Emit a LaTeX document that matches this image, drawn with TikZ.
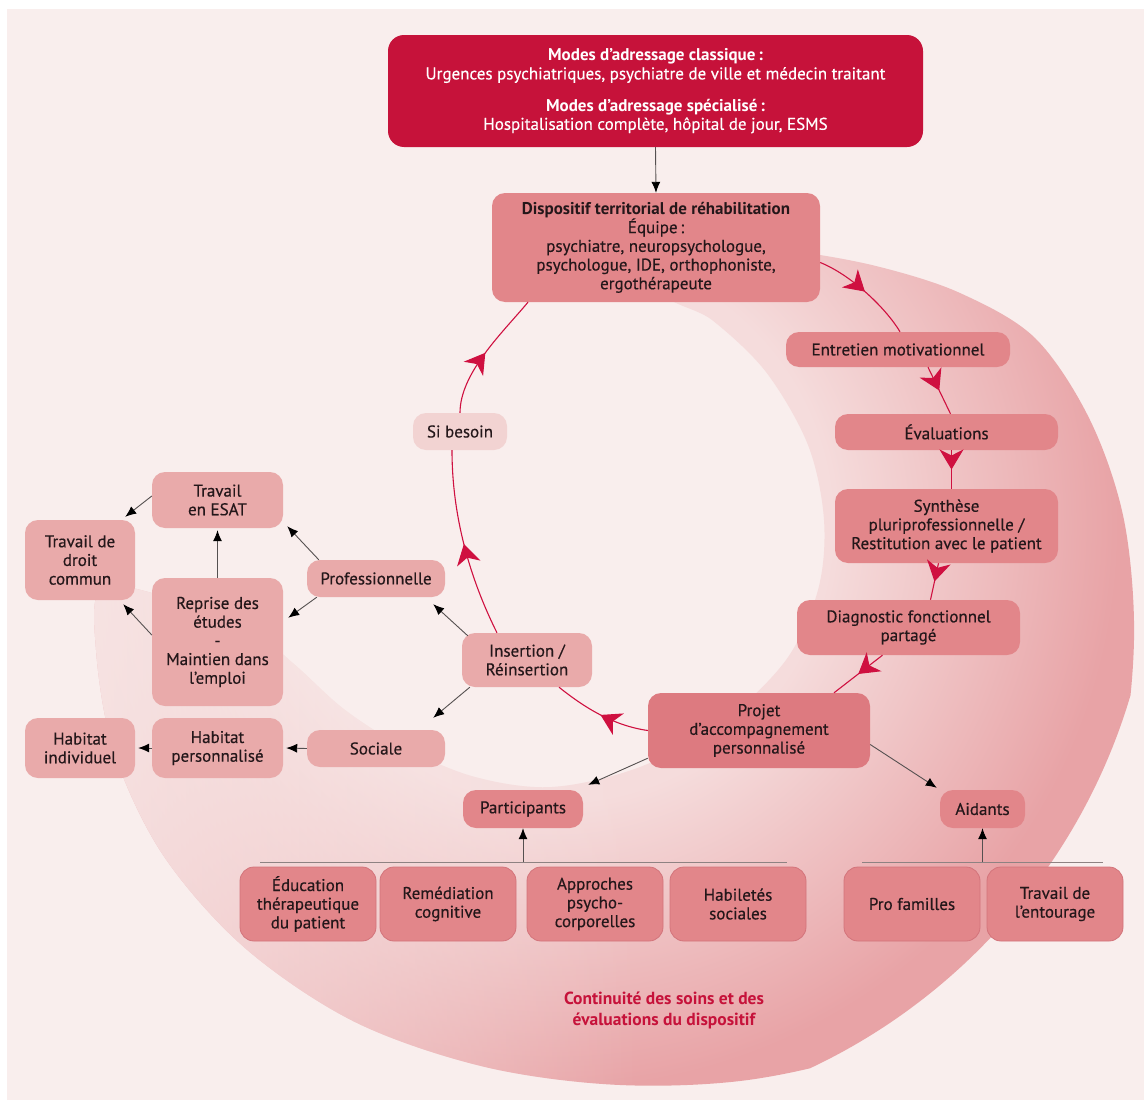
\documentclass[tikz,border=0pt]{standalone}
\usepackage{fontspec}
\setmainfont{PT Sans}[UprightFeatures={FakeBold=0.4}]
\usetikzlibrary{arrows.meta,decorations.markings,fadings}
\definecolor{bgc}{HTML}{F9EEED}
\definecolor{crim}{HTML}{C6123A}
\definecolor{redln}{HTML}{CF1040}
\definecolor{midbox}{HTML}{E2868A}
\definecolor{projbox}{HTML}{DD7A80}
\definecolor{litebox}{HTML}{E9AAAA}
\definecolor{palebox}{HTML}{F2D3D2}
\definecolor{botline}{HTML}{D3747B}
\definecolor{txt}{HTML}{24171A}
\definecolor{crl}{HTML}{F5DCDC}
\definecolor{crd}{HTML}{E8A3A6}
\definecolor{sepc}{HTML}{8E8282}
\definecolor{blkln}{HTML}{555050}
\tikzfading[name=fadeleft, left color=transparent!15, right color=transparent!100]
\pgfdeclareradialshading{cres}{\pgfpoint{0bp}{0bp}}{color(0bp)=(crl); color(11.5bp)=(crl); color(23.5bp)=(crd); color(50bp)=(crd)}
\newcommand\boxfont{\fontsize{17}{18.7}\selectfont}
\newcommand\contfont{\bfseries\fontsize{17.5}{21}\selectfont}
\begin{document}
\begin{tikzpicture}[x=1pt,y=-1pt,
  bx/.style={rounded corners=13pt, inner sep=2pt, align=center, text=txt, font=\boxfont},
  topb/.style={bx, rounded corners=16pt, fill=crim, text=white},
  midb/.style={bx, fill=midbox},
  projb/.style={bx, fill=projbox},
  liteb/.style={bx, fill=litebox},
  paleb/.style={bx, fill=palebox},
  botb/.style={bx, fill=midbox, draw=botline, line width=0.8pt, rounded corners=14pt, minimum width=136pt, minimum height=74pt},
  redarr/.style={draw=redln, line width=1.1pt, postaction={decorate},
     decoration={markings, mark=at position 0.5 with {\arrow{Stealth[length=20pt,width=24pt,inset=6pt,redln]}}}},
  blk/.style={draw=blkln, line width=0.9pt, -{Latex[length=11pt,width=9pt,black]}},
  sepl/.style={draw=sepc, line width=1pt}
]
\useasboundingbox (0,0) rectangle (1144,1100);
\fill[white] (0,0) rectangle (1144,1100);
\fill[bgc] (7,9) rectangle (1144,1100);
% crescent
\begin{scope}
\clip plot[smooth cycle, tension=0.55] coordinates {(720,245) (800,252) (880,267) (960,293) (1035,338) (1090,420) (1124,520) (1134,640) (1119,765) (1073,885) (996,980) (886,1045) (755,1079) (620,1085) (485,1067) (355,1022) (245,948) (163,855) (114,752) (96,650) (102,588) (170,598) (245,625) (295,665) (345,710) (405,748) (475,777) (552,787) (640,767) (722,722) (786,660) (818,590) (824,520) (808,445) (766,372) (712,320) (665,292)};
\shade[shading=cres] (555,525) circle[radius=600];
\fill[bgc, path fading=fadeleft] (60,400) rectangle (640,1100);
\end{scope}
% nodes
\node[topb, minimum width=535pt, minimum height=112pt] (top) at (655.5,91) {\textbf{Modes d’adressage classique\,:}\\Urgences psychiatriques, psychiatre de ville et médecin traitant\\[13pt]\textbf{Modes d’adressage spécialisé\,:}\\Hospitalisation complète, hôpital de jour, ESMS};
\node[midb, minimum width=328pt, minimum height=109pt] (disp) at (656,247.5) {\textbf{Dispositif territorial de réhabilitation}\\Équipe\,:\\psychiatre, neuropsychologue,\\psychologue, IDE, orthophoniste,\\ergothérapeute};
\node[midb, minimum width=224pt, minimum height=35pt] (entre) at (898,349.5) {Entretien motivationnel};
\node[midb, minimum width=223pt, minimum height=36pt] (eval) at (946.5,432) {Évaluations};
\node[midb, minimum width=223pt, minimum height=74pt] (synth) at (946.5,526) {Synthèse\\pluriprofessionnelle /\\Restitution avec le patient};
\node[midb, minimum width=223pt, minimum height=55pt] (diag) at (908.5,627.5) {Diagnostic fonctionnel\\partagé};
\node[projb, minimum width=222pt, minimum height=75pt] (projet) at (759,730.5) {Projet\\d’accompagnement\\personnalisé};
\node[liteb, minimum width=130pt, minimum height=54pt] (ins) at (527,660) {Insertion /\\Réinsertion};
\node[paleb, minimum width=94pt, minimum height=37pt] (sib) at (460,431.5) {Si besoin};
\node[liteb, minimum width=138pt, minimum height=37pt] (prof) at (376,578.5) {Professionnelle};
\node[liteb, minimum width=138pt, minimum height=37pt] (soc) at (376,748.5) {Sociale};
\node[liteb, minimum width=131pt, minimum height=56pt] (esat) at (217.5,500) {Travail\\en ESAT};
\node[liteb, minimum width=110pt, minimum height=80pt] (droit) at (80,560) {Travail de\\droit\\commun};
\node[liteb, minimum width=131pt, minimum height=128pt] (reprise) at (217.5,642) {Reprise des\\études\\-\\Maintien dans\\l’emploi};
\node[liteb, minimum width=110pt, minimum height=60pt] (hind) at (80,748) {Habitat\\individuel};
\node[liteb, minimum width=131pt, minimum height=60pt] (hpers) at (217.5,748) {Habitat\\personnalisé};
\node[midb, minimum width=120pt, minimum height=38pt] (partic) at (523,809) {Participants};
\node[midb, minimum width=85pt, minimum height=38pt] (aid) at (982.5,809) {Aidants};
\node[botb] (edu) at (308,904) {Éducation\\thérapeutique\\du patient};
\node[botb] (rem) at (448,904) {Remédiation\\cognitive};
\node[botb] (appr) at (595,904) {Approches\\psycho-\\corporelles};
\node[botb] (hab) at (738,904) {Habiletés\\sociales};
\node[botb] (profam) at (912,904) {Pro familles};
\node[botb] (ent) at (1055,904) {Travail de\\l’entourage};
\node[font=\contfont, text=crim, align=center] (cont) at (664,1010) {Continuité des soins et des\\évaluations du dispositif};
% separators
\coordinate (sa1) at (260,862);
\coordinate (sa2) at (787,862);
\coordinate (sb1) at (862,862);
\coordinate (sb2) at (1103,862);
\draw[sepl] (sa1) -- (sa2);
\draw[sepl] (sb1) -- (sb2);
% red cycle
\draw[redarr] ([yshift=-15pt]disp.east) .. controls +(30,12) and +(-15,-25) .. ([xshift=2pt]entre.north);
\draw[redarr] ([xshift=30pt]entre.south) -- ([xshift=4pt]eval.north);
\draw[redarr] ([xshift=5pt]eval.south) -- ([xshift=5pt]synth.north);
\draw[redarr] ([xshift=-8pt]synth.south) -- ([xshift=22pt]diag.north);
\draw[redarr] ([xshift=-26pt]diag.south) -- ([xshift=75pt]projet.north);
\draw[redarr] (projet.west) .. controls +(-35,-5) and +(25,20) .. ([xshift=32pt]ins.south);
\draw[redarr] ([xshift=-30pt]ins.north) .. controls +(-25,-50) and +(0,70) .. ([xshift=-8pt]sib.south);
\draw[redarr] (sib.north) .. controls +(0,-40) and +(-25,30) .. ([xshift=-128pt]disp.south);
% black arrows
\draw[blk] (top.south) -- (disp.north);
\draw[blk] ([yshift=10pt]projet.south west) -- ([xshift=5pt,yshift=5pt]partic.north east);
\draw[blk] ([yshift=-14pt]projet.east) -- ([xshift=-3pt,yshift=2pt]aid.north west);
\draw[blk] ([xshift=6pt,yshift=-3pt]ins.north west) -- ([xshift=-12pt,yshift=-7pt]prof.south east);
\draw[blk] ([xshift=8pt]ins.south west) -- ([xshift=-12pt,yshift=12pt]soc.north east);
\draw[blk] ([xshift=12pt]prof.north west) -- ([xshift=4pt,yshift=2pt]esat.south east);
\draw[blk] ([xshift=10pt]prof.south west) -- ([xshift=5pt,yshift=-40pt]reprise.north east);
\draw[blk] (reprise.north) -- ([yshift=-2pt]esat.south);
\draw[blk] ([yshift=4pt]esat.west) -- ([xshift=-10pt,yshift=3pt]droit.north east);
\draw[blk] ([yshift=7pt]reprise.west) -- ([xshift=-12pt,yshift=-4pt]droit.south east);
\draw[blk] (soc.west) -- ([xshift=3pt]hpers.east);
\draw[blk] (hpers.west) -- ([xshift=3pt]hind.east);
\draw[blk] (partic.south |- sa1) -- (partic.south);
\draw[blk] (aid.south |- sb1) -- (aid.south);
\end{tikzpicture}
\end{document}
